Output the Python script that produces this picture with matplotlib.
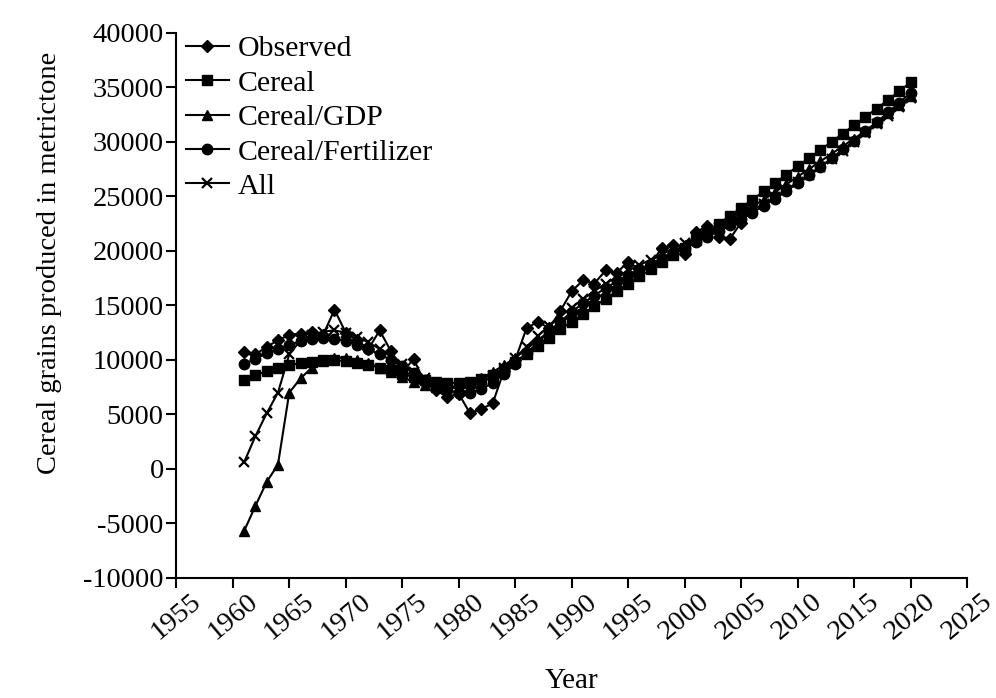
import matplotlib
matplotlib.use("Agg")
import matplotlib.pyplot as plt
import numpy as np

years = list(range(1961, 2021))
obs_years = list(range(1961, 2006))

observed = [10700, 10500, 11200, 11800, 12300, 12400, 12600, 12300, 14600, 12500,
            11800, 11000, 12700, 10800, 8800, 10100, 7900, 7200, 6600, 6900,
            5100, 5500, 6000, 9000, 10000, 12900, 13500, 12900, 14500, 16300,
            17300, 17000, 18200, 18000, 19000, 18300, 18800, 20300, 20500, 19700,
            21700, 22300, 21300, 21100, 22600]

cereal = [8200, 8600, 8950, 9250, 9500, 9700, 9850, 9950, 9950, 9900,
          9750, 9550, 9300, 9050, 8750, 8450, 8200, 8000, 7900, 7900,
          8000, 8250, 8650, 9200, 9850, 10550, 11300, 12050, 12800, 13500,
          14200, 14900, 15600, 16300, 17000, 17650, 18300, 18950, 19600, 20300,
          21000, 21700, 22450, 23200, 23950, 24700, 25450, 26200, 27000, 27750,
          28500, 29250, 30000, 30750, 31550, 32300, 33050, 33850, 34650, 35450]

cereal_gdp = [-5700, -3400, -1200, 400, 7000, 8300, 9300, 9900, 10200, 10200,
              10000, 9700, 9300, 8900, 8400, 8000, 7700, 7500, 7500, 7600,
              7900, 8300, 8900, 9500, 10200, 11000, 11800, 12600, 13400, 14100,
              14800, 15500, 16200, 16900, 17500, 18100, 18700, 19300, 19900, 20500,
              21100, 21700, 22300, 22900, 23500, 24100, 24700, 25400, 26100, 26800,
              27500, 28200, 28900, 29600, 30300, 31000, 31800, 32600, 33400, 34200]

cereal_fert = [9600, 10100, 10600, 11000, 11400, 11700, 11900, 12000, 11950, 11750,
               11400, 11000, 10500, 10000, 9400, 8800, 8200, 7600, 7200, 7000,
               7000, 7300, 7900, 8700, 9600, 10600, 11600, 12600, 13500, 14400,
               15200, 15900, 16600, 17200, 17800, 18300, 18800, 19300, 19800, 20300,
               20800, 21300, 21800, 22350, 22900, 23500, 24150, 24800, 25500, 26200,
               26950, 27700, 28500, 29300, 30100, 30950, 31800, 32700, 33600, 34500]

all_vars = [600, 3000, 5100, 7000, 10500, 11800, 12300, 12600, 12700, 12500,
            12100, 11600, 11000, 10300, 9600, 8900, 8300, 7800, 7500, 7400,
            7500, 7900, 8500, 9300, 10200, 11200, 12200, 13100, 14000, 14800,
            15600, 16300, 17000, 17600, 18200, 18700, 19200, 19700, 20200, 20700,
            21200, 21600, 22100, 22600, 23100, 23700, 24300, 24900, 25600, 26300,
            27000, 27700, 28400, 29200, 30000, 30800, 31600, 32400, 33200, 34000]

plt.rcParams["font.family"] = ["Liberation Serif", "DejaVu Serif"]
plt.rcParams["axes.unicode_minus"] = False

fig = plt.figure(figsize=(9.96, 6.98), dpi=100)
ax = fig.add_axes([0.177, 0.172, 0.794, 0.781])

kw = dict(color="black", linewidth=1.5, markersize=7.5)
ax.plot(obs_years, observed, "-D", label="Observed", markersize=6.5, color="black", linewidth=1.5)
ax.plot(years, cereal, "-s", label="Cereal", **kw)
ax.plot(years, cereal_gdp, "-^", label="Cereal/GDP", **kw)
ax.plot(years, cereal_fert, "-o", label="Cereal/Fertilizer", **kw)
ax.plot(years, all_vars, "-x", label="All", color="black", linewidth=1.5, markersize=7,
        markeredgewidth=1.6)

ax.set_xlim(1955, 2025)
ax.set_ylim(-10000, 40000)
ax.set_xticks(np.arange(1955, 2026, 5))
ax.set_yticks(np.arange(-10000, 40001, 5000))
ax.tick_params(axis="both", direction="out", length=7, width=1.5, labelsize=20.5)
ax.tick_params(axis="x", pad=1)
ax.tick_params(axis="y", pad=2)
for lbl in ax.get_xticklabels():
    lbl.set_rotation(40)
    lbl.set_ha("center")

ax.spines["top"].set_visible(False)
ax.spines["right"].set_visible(False)
ax.spines["left"].set_linewidth(1.5)
ax.spines["bottom"].set_linewidth(1.5)

ax.set_ylabel("Cereal grains produced in metrictone", fontsize=20.5)
ax.yaxis.set_label_coords(-0.144, 0.578)
ax.set_xlabel("Year", fontsize=21, labelpad=17)

ax.legend(loc="upper left", frameon=False, fontsize=21.5, handlelength=1.45,
          handletextpad=0.3, labelspacing=0.25, borderaxespad=0.0,
          borderpad=0.0, bbox_to_anchor=(0.012, 0.995))

fig.savefig("out.png", dpi=100)
